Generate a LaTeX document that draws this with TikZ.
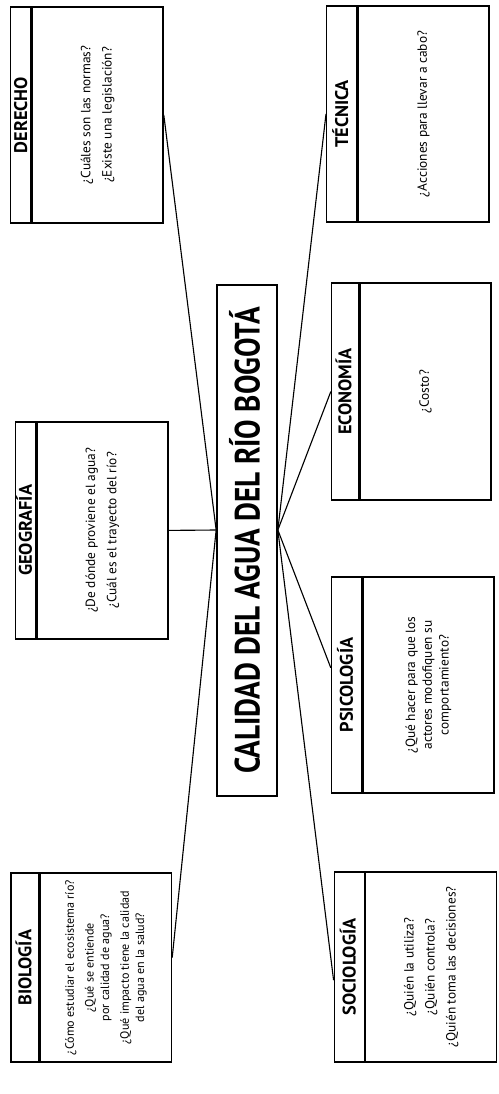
\documentclass[tikz,border=0pt]{standalone}
\usepackage{fontspec}
\setmainfont{PT Sans}
\usepackage{graphicx}
\usepackage{tikz}

\begin{document}
\begin{tikzpicture}[
        body/.style={draw, line width=1pt, rotate=90, minimum height=3.275cm, align=center, inner sep=2pt, font=\fontsize{9.5}{12}\selectfont},
        head/.style={draw, line width=1pt, rotate=90, anchor=south, inner sep=0pt, text height=9pt, text depth=0pt, font=\fontsize{13}{13}\selectfont\bfseries},
        hub/.style={draw, line width=1.2pt, rotate=90, inner sep=0pt, text height=18pt, text depth=0pt, font=\fontsize{25}{25}\selectfont\bfseries},
        link/.style={line width=0.8pt}
    ]
        \useasboundingbox (0, 0) rectangle (12.475, -27.35);

        % Central topic
        \node [hub, minimum width=12.775cm, minimum height=1.5cm] (title) at (6.175, -13.51) {\scalebox{0.83}[1]{CALIDAD DEL AGUA DEL RÍO BOGOTÁ}};
        \coordinate (hubL) at ([yshift=2.6mm]title.north);
        \coordinate (hubR) at ([yshift=2.6mm]title.south);

        % Left column
        \node [body, minimum width=5.4cm] (derecho) at (2.44, -2.875) {¿Cuáles son las normas?\\[3pt] ¿Existe una legislación?};
        \node [head, minimum width=5.4cm, minimum height=0.5cm] (derecho-head) at (derecho.north) {DERECHO};

        \node [body, minimum width=5.425cm] (geografia) at (2.56, -13.26) {¿De dónde proviene el agua?\\[3pt] ¿Cuál es el trayecto del río?};
        \node [head, minimum width=5.425cm, minimum height=0.5cm] (geografia-head) at (geografia.north) {GEOGRAFÍA};

        \node [body, minimum width=4.725cm, font=\fontsize{8.6}{11}\selectfont] (biologia) at (2.65, -24.19) {¿Cómo estudiar el ecosistema río?\\[3pt] ¿Qué se entiende\\ por calidad de agua?\\[3pt] ¿Qué impacto tiene la calidad\\ del agua en la salud?};
        \node [head, minimum width=4.725cm, minimum height=0.7cm] (biologia-head) at (biologia.north) {BIOLOGÍA};

        % Right column
        \node [body, minimum width=5.4cm] (tecnica) at (10.59, -2.85) {¿Acciones para llevar a cabo?};
        \node [head, minimum width=5.4cm, minimum height=0.75cm] (tecnica-head) at (tecnica.north) {TÉCNICA};

        \node [body, minimum width=5.425cm] (economia) at (10.64, -9.79) {¿Costo?};
        \node [head, minimum width=5.425cm, minimum height=0.68cm] (economia-head) at (economia.north) {ECONOMÍA};

        \node [body, minimum width=5.4cm] (psicologia) at (10.71, -17.125) {¿Qué hacer para que los\\ actores modofiquen su\\ comportamiento?};
        \node [head, minimum width=5.4cm, minimum height=0.75cm] (psicologia-head) at (psicologia.north) {PSICOLOGÍA};

        \node [body, minimum width=4.75cm] (sociologia) at (10.78, -24.175) {¿Quién la utiliza?\\[3pt] ¿Quién controla?\\[3pt] ¿Quién toma las decisiones?};
        \node [head, minimum width=4.75cm, minimum height=0.75cm] (sociologia-head) at (sociologia.north) {SOCIOLOGÍA};

        % Links
        \draw [link] (hubL) -- (derecho.south);
        \draw [link] (hubL) -- (geografia.south);
        \draw [link] (hubL) -- ([yshift=2.5mm]biologia.south);
        \draw [link] (hubR) -- (tecnica-head.north);
        \draw [link] (hubR) -- (economia-head.north);
        \draw [link] (hubR) -- ([yshift=4.3mm]psicologia-head.north);
        \draw [link] (hubR) -- ([yshift=-3.3mm]sociologia-head.north);
    \end{tikzpicture}
\end{document}
